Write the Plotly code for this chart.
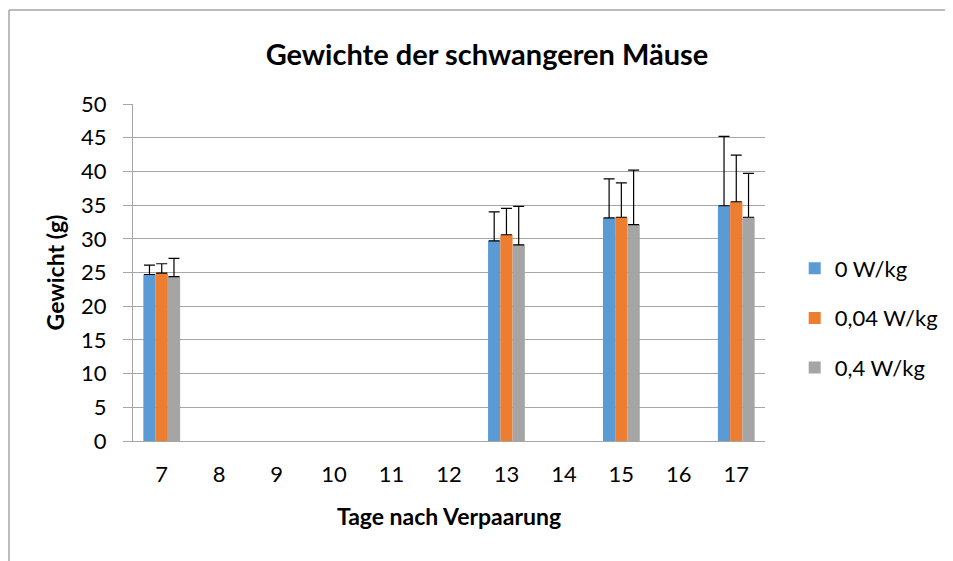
import plotly.graph_objects as go

tage = ["7", "8", "9", "10", "11", "12", "13", "14", "15", "16", "17"]

gruppen = ["0 W/kg", "0,04 W/kg", "0,4 W/kg"]
farben = ["#5B9BD5", "#ED7D31", "#A5A5A5"]

gewicht_0 = [24.7, None, None, None, None, None, 29.7, None, 33.1, None, 34.9]
gewicht_004 = [24.9, None, None, None, None, None, 30.6, None, 33.2, None, 35.5]
gewicht_04 = [24.4, None, None, None, None, None, 29.1, None, 32.1, None, 33.2]

fehler_0 = [1.4, None, None, None, None, None, 4.3, None, 5.8, None, 10.3]
fehler_004 = [1.4, None, None, None, None, None, 3.9, None, 5.1, None, 6.9]
fehler_04 = [2.7, None, None, None, None, None, 5.7, None, 8.1, None, 6.5]

werte = [gewicht_0, gewicht_004, gewicht_04]
fehler = [fehler_0, fehler_004, fehler_04]

font = "Lato, 'Open Sans', sans-serif"

fig = go.Figure()
for i in range(3):
    fig.add_trace(go.Bar(
        x=tage, y=werte[i], name=gruppen[i],
        marker=dict(color=farben[i], line=dict(width=0)),
        error_y=dict(type="data", array=fehler[i], symmetric=False,
                     arrayminus=[0] * len(tage), color="black",
                     thickness=1.2, width=5.5),
        legendgroup=gruppen[i],
    ))

# die Seite hat 8px Rand, daher alles um 8px verschoben
fig.update_layout(
    width=953, height=561,
    margin=dict(l=125, r=196, t=96, b=128),
    paper_bgcolor="white", plot_bgcolor="white",
    font=dict(family=font, size=22, color="black"),
    barmode="group", bargap=0.36, bargroupgap=0,
    title=dict(text="<b>Gewichte der schwangeren Mäuse</b>",
               x=(487 - 8) / 953, xanchor="center", y=1 - 47 / 561, yanchor="middle",
               font=dict(size=29, family=font)),
    legend=dict(x=1.047, y=0.365, xanchor="left", yanchor="middle",
                tracegroupgap=18, font=dict(size=22),
                bgcolor="rgba(0,0,0,0)"),
    showlegend=True,
)

fig.update_xaxes(
    type="category", showgrid=False, showline=True, linecolor="#A6A6A6",
    linewidth=1, ticks="", ticklabelstandoff=14,
    title=dict(text="<b>Tage nach Verpaarung</b>", font=dict(size=23), standoff=22),
)
fig.update_yaxes(
    range=[0, 50], dtick=5, showgrid=True, gridcolor="#A6A6A6", gridwidth=1,
    showline=True, linecolor="#A6A6A6", linewidth=1,
    ticks="outside", ticklen=9, tickcolor="#A6A6A6", zeroline=False,
    ticklabelstandoff=12,
    title=dict(text="<b>Gewicht (g)</b>", font=dict(size=23), standoff=10),
)

# Rahmen um das Diagramm: nur oben und links sichtbar
x_links = (9 - 133) / 632
y_oben = (441 - 10) / 337
fig.add_shape(type="line", xref="paper", yref="paper",
              x0=x_links, x1=(1200 - 133) / 632, y0=y_oben, y1=y_oben,
              line=dict(color="#A6A6A6", width=1.5), layer="below")
fig.add_shape(type="line", xref="paper", yref="paper",
              x0=x_links, x1=x_links, y0=(441 - 700) / 337, y1=y_oben,
              line=dict(color="#A6A6A6", width=1.5), layer="below")

fig.write_html("out.html")
